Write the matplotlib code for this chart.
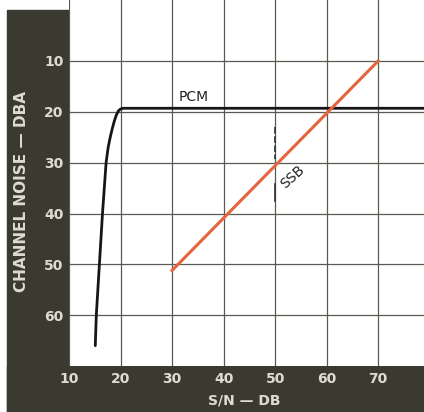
import numpy as np
import matplotlib
matplotlib.use("Agg")
import matplotlib.pyplot as plt
from matplotlib.patches import Rectangle

# PCM curve (S/N in dB, channel noise in dBA)
pcm_sn = [15.1, 15.3, 15.6, 15.9, 16.2, 16.5, 16.85, 17.2, 17.6, 18.0,
          18.4, 18.8, 19.2, 19.6, 20.0, 20.5, 80.0]
pcm_noise = [66.0, 60.0, 55.0, 50.0, 45.0, 40.0, 35.0, 30.0, 27.0, 25.0,
             23.3, 21.8, 20.6, 19.8, 19.45, 19.3, 19.3]

# SSB line
ssb_sn = [30, 70]
ssb_noise = [51.2, 10.0]

xticks = [10, 20, 30, 40, 50, 60, 70]
yticks = [10, 20, 30, 40, 50, 60]

frame = "#3a3a31"
label_col = "#dcdcd2"

fig = plt.figure(figsize=(4.24, 4.12), dpi=100)
fig.patch.set_facecolor("white")

# dark frame around the plot
fig.patches.append(Rectangle((7 / 424, 0), (69 - 7) / 424, 1 - 10 / 412,
                             transform=fig.transFigure, color=frame, zorder=-5))
fig.patches.append(Rectangle((7 / 424, 0), 1, 46 / 412,
                             transform=fig.transFigure, color=frame, zorder=-5))

ax = fig.add_axes([69 / 424, 46 / 412, 355 / 424, 366 / 412])
ax.set_xlim(10, 78.9)
ax.set_ylim(70, -2)

ax.set_xticks(xticks)
ax.set_yticks(yticks)
ax.grid(True, color="#5a5a55", linewidth=0.9)
ax.tick_params(length=0, labelcolor=label_col, labelsize=10)
ax.tick_params(axis="x", pad=4.5)
ax.tick_params(axis="y", pad=4)
for lab in ax.get_xticklabels() + ax.get_yticklabels():
    lab.set_fontweight("bold")
for s in ax.spines.values():
    s.set_visible(False)

ax.plot(pcm_sn, pcm_noise, color="#161616", linewidth=2.0, solid_capstyle="round")
ax.plot(ssb_sn, ssb_noise, color="#e5643e", linewidth=2.2)

# pen marks on the 50 dB gridline
ax.plot([50, 50], [23.0, 29.2], color="#333", linewidth=1.2, dashes=(4, 1.5))
ax.plot([50, 50], [34.2, 37.6], color="#333", linewidth=1.2)

ax.text(31.3, 17.0, "PCM", fontsize=10, color="#222", va="center", ha="left")
ax.text(53.4, 32.9, "SSB", fontsize=10, color="#222", va="center", ha="center",
        rotation=42)

fig.text(22 / 424, 1 - 192 / 412, "CHANNEL NOISE \u2014 DBA", rotation=90,
         color=label_col, fontsize=11, fontweight="bold", ha="center", va="center")
fig.text(244 / 424, 1 - 400 / 412, "S/N \u2014 DB", color=label_col,
         fontsize=10, fontweight="bold", ha="center", va="center")

fig.savefig("out.png", dpi=100)
